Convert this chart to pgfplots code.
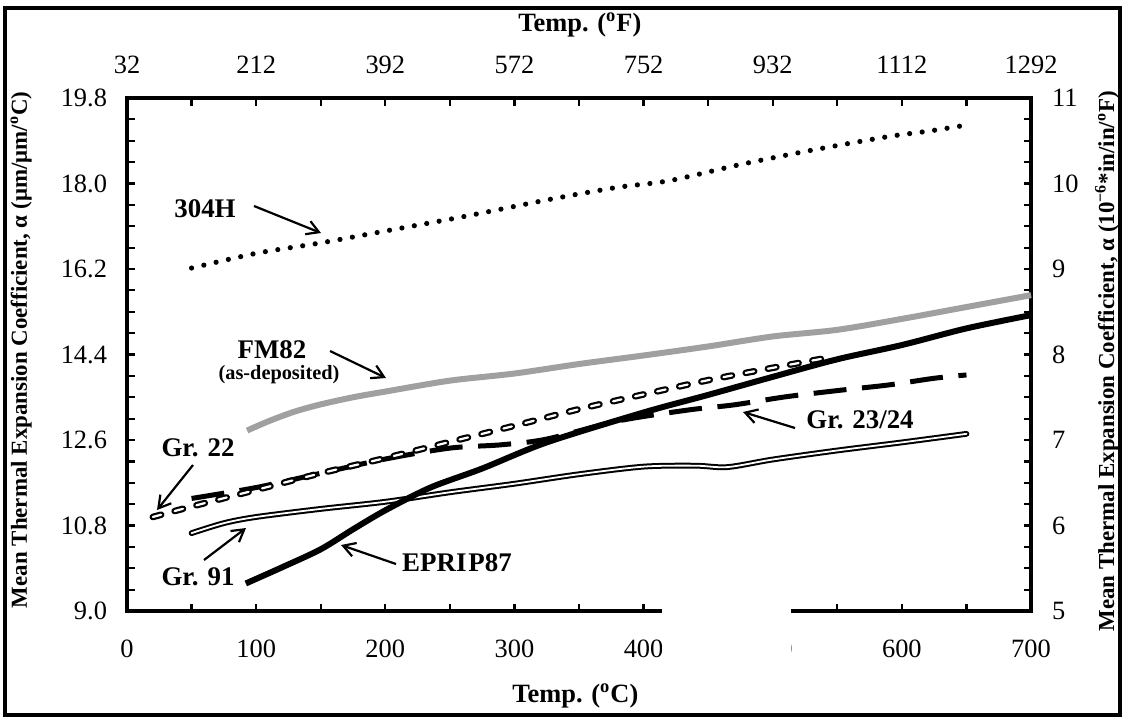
\documentclass[border=0pt]{standalone}
\usepackage{fontspec}
\setmainfont{Liberation Serif}
\usepackage{pgfplots}
\pgfplotsset{compat=1.18}
\usetikzlibrary{arrows.meta}
\definecolor{fmgray}{RGB}{160,160,160}
\newcommand{\tickfont}{\fontsize{13.25}{15}\selectfont}
\newcommand{\titlefont}{\fontsize{13.25}{15}\selectfont\bfseries}
\newcommand{\ylabfont}{\fontsize{11.5}{13}\selectfont\bfseries}
\newcommand{\annfont}{\fontsize{13.5}{15}\selectfont\bfseries}
\begin{document}
\begin{tikzpicture}[x=0.5bp,y=-0.5bp]
\useasboundingbox (0,0) rectangle (1125,719);
\draw[line width=1.6bp] (5,8) rectangle (1120,715);
\begin{axis}[
  at={(63.5bp,-305.5bp)}, anchor=south west,
  scale only axis, width=452bp, height=256.5bp,
  xmin=0, xmax=700, ymin=9, ymax=19.8,
  xtick={0,100,...,700}, minor xtick={50,150,...,650},
  ytick={9,10.8,12.6,14.4,16.2,18,19.8},
  yticklabels={9.0,10.8,12.6,14.4,16.2,18.0,19.8},
  minor ytick={9.45,9.9,10.35,11.25,11.7,12.15,13.05,13.5,13.95,14.85,15.3,15.75,16.65,17.1,17.55,18.45,18.9,19.35},
  tick align=inside, major tick length=3.75bp, minor tick length=3.75bp,
  every tick/.style={black, line width=1.1bp},
  axis line style={line width=1.6bp},
  /pgf/number format/assume math mode=true,
  ticklabel style={font=\tickfont},
  xticklabel style={yshift=-11bp},
  yticklabel style={xshift=-6.5bp},
  xlabel={Temp. (\textsuperscript{o}C)},
  xlabel style={font=\titlefont, at={(axis description cs:0.496,-0.179)}, anchor=base},
  ylabel={Mean Thermal Expansion Coefficient, α (μm/μm/\textsuperscript{o}C)},
  ylabel style={font=\ylabfont, at={(axis description cs:-0.117,0.509)}, anchor=center},
  clip=false,
]
% 304H
\addplot[black, line width=2.6bp, line cap=round, dash pattern=on 0pt off 6.3bp, smooth] coordinates {
(50,16.22) (100,16.53) (150,16.75) (200,17.0) (260,17.3) (330,17.68) (380,17.92) (420,18.06) (475,18.4) (530,18.7) (590,18.99) (620,19.1) (650,19.23)};
% FM82
\addplot[fmgray, line width=3bp, smooth] coordinates {
(93,12.8) (110,13.0) (130,13.2) (150,13.35) (175,13.5) (200,13.62) (250,13.85) (300,14.0) (350,14.2) (400,14.38) (450,14.57) (500,14.78) (550,14.92) (600,15.15) (650,15.4) (700,15.65)};
% Gr. 91
\addplot[black, line width=1bp, double=white, double distance=0.9bp, line cap=round, smooth] coordinates {
(50,10.64) (75,10.85) (100,10.98) (150,11.15) (200,11.3) (250,11.5) (300,11.68) (350,11.88) (400,12.04) (440,12.06) (465,12.03) (500,12.19) (550,12.38) (600,12.55) (650,12.73)};
% Gr. 23/24
\addplot[black, line width=2.5bp, dash pattern=on 16.5bp off 7.8bp, smooth] coordinates {
(50,11.37) (100,11.6) (150,11.9) (200,12.2) (250,12.43) (290,12.5) (325,12.62) (380,13.0) (434,13.23) (470,13.34) (510,13.51) (553,13.65) (590,13.76) (625,13.9) (650,13.97)};
% Gr. 22
\addplot[black, line width=1.1bp, double=white, double distance=1.1bp, line cap=round, dash pattern=on 4.3bp off 7bp, smooth] coordinates {
(20,10.98) (50,11.2) (100,11.55) (150,11.9) (200,12.22) (250,12.56) (300,12.9) (350,13.25) (400,13.56) (450,13.86) (500,14.12) (540,14.32)};
% EPRIP87
\addplot[black, line width=3bp, smooth] coordinates {
(92,9.58) (120,9.92) (150,10.3) (175,10.72) (200,11.12) (235,11.6) (275,12.0) (325,12.55) (400,13.18) (450,13.55) (500,13.93) (550,14.3) (600,14.6) (650,14.95) (700,15.23)};
\end{axis}
\begin{axis}[
  at={(63.5bp,-305.5bp)}, anchor=south west,
  scale only axis, width=452bp, height=256.5bp,
  xmin=32, xmax=1292, ymin=5, ymax=11,
  axis x line*=top, axis y line*=right,
  axis line style={draw=none},
  xtick={32,212,...,1292}, ytick={5,...,11},
  major tick length=0pt, minor tick length=0pt,
  /pgf/number format/assume math mode=true,
  /pgf/number format/1000 sep={},
  ticklabel style={font=\tickfont},
  xticklabel style={yshift=8.5bp},
  yticklabel style={xshift=7bp},
  xlabel={Temp. (\textsuperscript{o}F)},
  xlabel style={font=\titlefont, at={(axis description cs:0.501,1.129)}, anchor=base},
  ylabel={Mean Thermal Expansion Coefficient, α (10\textsuperscript{−6}*in/in/\textsuperscript{o}F)},
  ylabel style={font=\ylabfont, at={(axis description cs:1.084,0.487)}, anchor=center},
]
\end{axis}
% annotations
\node[font=\annfont] at (205,209) {304H};
\draw[line width=1.1bp, -{Straight Barb[length=6bp,width=7bp]}] (254,206) -- (321,233);
\node[font=\annfont] at (272,350) {FM82};
\node[font=\fontsize{10.2}{12}\selectfont\bfseries] at (279,375) {(as-deposited)};
\draw[line width=1.1bp, -{Straight Barb[length=6bp,width=7bp]}] (330,351) -- (386,378);
\node[font=\annfont] at (198,448) {Gr. 22};
\draw[line width=1.1bp, -{Straight Barb[length=6bp,width=7bp]}] (193,465) -- (157,510);
\node[font=\annfont] at (198,577) {Gr. 91};
\draw[line width=1.1bp, -{Straight Barb[length=6bp,width=7bp]}] (204,560) -- (246,528);
\node[font=\annfont] at (457,563) {EPRI\kern1bp P87};
\draw[line width=1.1bp, -{Straight Barb[length=6bp,width=7bp]}] (396,564) -- (341,545);
\node[font=\annfont] at (860,420) {Gr. 23/24};
\draw[line width=1.1bp, -{Straight Barb[length=6bp,width=7bp]}] (795,428) -- (743,412);
% white occluding patch present in the reference
\fill[white] (662,601) rectangle (791,672);
\end{tikzpicture}
\end{document}
